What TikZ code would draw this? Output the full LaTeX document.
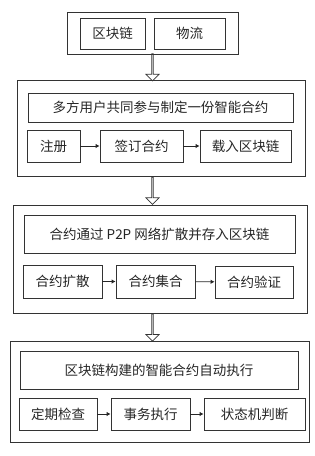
\documentclass[tikz,border=0pt]{standalone}
\usepackage{fontspec}
\setmainfont{Noto Sans CJK SC}
\usetikzlibrary{shapes.arrows,arrows.meta}

\begin{document}
\begin{tikzpicture}[x=1pt, y=-1pt,
        every node/.style={font=\fontsize{13.5}{15}\selectfont, text=black!85},
        rahmen/.style={draw=black!80, line width=0.8pt, inner sep=0pt},
        kasten/.style={rahmen},
        hohlpfeil/.style={single arrow, draw=black!80, line width=0.8pt, rotate=-90,
                          minimum height=27pt, minimum width=13pt,
                          single arrow head extend=3.5pt, inner sep=0pt},
        kante/.style={draw=black!85, line width=0.9pt, -{Latex[length=4pt,width=4.5pt]}}
    ]
        \useasboundingbox (0,0) rectangle (315,456);

        % oben
        \node[rahmen, minimum width=171pt, minimum height=42pt] (oben) at (152.5,33) {};
        \node[kasten, minimum width=65pt, minimum height=31pt] (kette) at (112.5,33.5) {区块链};
        \node[kasten, minimum width=71pt, minimum height=31pt] (logistik) at (189.5,33.5) {物流};

        % stufe 1
        \node[rahmen, minimum width=288pt, minimum height=96pt] (s1) at (161,128) {};
        \node[kasten, minimum width=265pt, minimum height=29pt] (s1t) at (160.5,107.5) {多方用户共同参与制定一份智能合约};
        \node[kasten, minimum width=53pt, minimum height=32pt] (reg)  at (53.5,146) {注册};
        \node[kasten, minimum width=83pt, minimum height=32pt] (sign) at (141.5,146) {签订合约};
        \node[kasten, minimum width=91pt, minimum height=32pt] (load) at (245.5,146) {载入区块链};

        % stufe 2
        \node[rahmen, minimum width=294pt, minimum height=108pt] (s2) at (160,259) {};
        \node[kasten, minimum width=271pt, minimum height=38pt] (s2t) at (159.5,234) {合约通过 P2P 网络扩散并存入区块链};
        \node[kasten, minimum width=79pt, minimum height=33pt] (spread)  at (62.5,281.5) {合约扩散};
        \node[kasten, minimum width=79pt, minimum height=33pt] (collect) at (155.5,281.5) {合约集合};
        \node[kasten, minimum width=78pt, minimum height=32pt] (verify)  at (254,282) {合约验证};

        % stufe 3
        \node[rahmen, minimum width=299pt, minimum height=101pt] (s3) at (159.5,392) {};
        \node[kasten, minimum width=278pt, minimum height=38pt] (s3t) at (159,370) {区块链构建的智能合约自动执行};
        \node[kasten, minimum width=78pt, minimum height=32pt] (check) at (58,414) {定期检查};
        \node[kasten, minimum width=79pt, minimum height=32pt] (exec)  at (150.5,414) {事务执行};
        \node[kasten, minimum width=101pt, minimum height=32pt] (state) at (254.5,414) {状态机判断};

        \path (oben.south) -- (oben.south |- s1.north) node[midway, hohlpfeil] {};
        \path (oben.south |- s1.south) -- (oben.south |- s2.north) node[midway, hohlpfeil] {};
        \path (oben.south |- s2.south) -- (oben.south |- s3.north) node[midway, hohlpfeil] {};

        \foreach \a/\b in {reg/sign, sign/load, spread/collect, collect/verify, check/exec, exec/state}
            \draw[kante] (\a) -- (\b);
    \end{tikzpicture}
\end{document}
